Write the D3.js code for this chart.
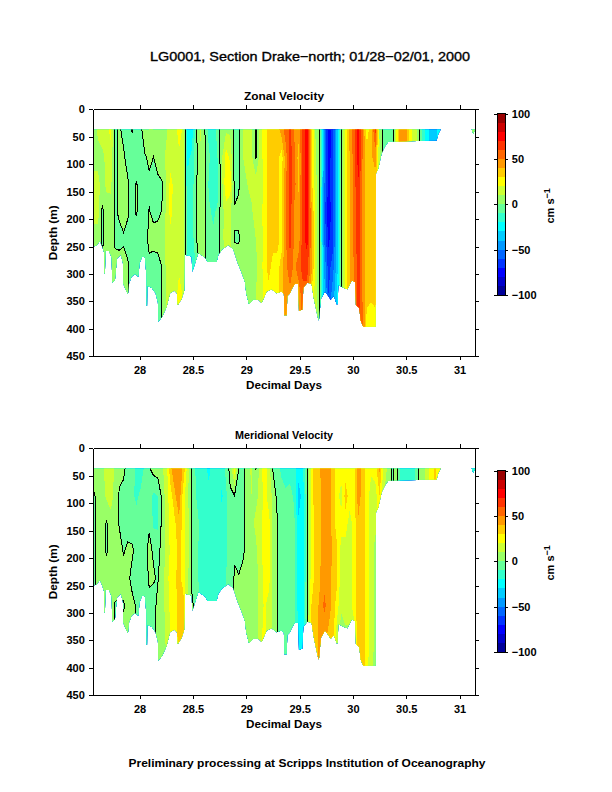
<!DOCTYPE html>
<html><head><meta charset="utf-8">
<script src="https://cdn.jsdelivr.net/npm/d3@7/dist/d3.min.js"></script>
<style>html,body{margin:0;padding:0;background:#fff}svg{display:block}
text{font-family:"Liberation Sans",Arial,sans-serif;fill:#000}</style></head>
<body><svg id="c" width="612" height="792"></svg>
<script>
// ---- data ----
const titleText = "LG0001, Section Drake\u2212north; 01/28\u221202/01, 2000";
const footerText = "Preliminary processing at Scripps Institution of Oceanography";
const xTicks = [28, 28.5, 29, 29.5, 30, 30.5, 31];
const yTicks = [0,50,100,150,200,250,300,350,400,450];
const barTicks = [-100,-50,0,50,100];
const bandColors = ["#000099","#0000cc","#0000ff","#0033ff","#0066ff","#0099ff","#00ccff","#00ffff","#33ffcc","#66ff99",
                    "#99ff66","#ccff33","#ffff00","#ffcc00","#ff9900","#ff6600","#ff3300","#ff0000","#cc0000","#990000"];
const bandLevels = [-100,-90,-80,-70,-60,-50,-40,-30,-20,-10,0,10,20,30,40,50,60,70,80,90];
const firstDay = 27.57, dayStep = 0.04;      // one column every 0.04 day
const firstDepth = 37, depthStep = 50;       // each column lists values from 37 m down every 50 m

const zonal = [
[4,6,14,13,6],[12,7,13,14,5],[14,8,6,-2,-2,3],[16,12,12,5,3,5],[24,15,12,6,5,5],
[-1,-1,-1,-1,-1,2,2],[1,1,1,1,-2,3,3],[-2,1,3,3,-1,3,3],[-3,-3,1,1,-3,1,1],[0.5,-4,-3,-3,-5,-4,-4],
[-3,-3,0.5,1,-6,-6,-6],[-3,-6,-3,-6,-6,-6,-5],[8,-1,-5,-5,-3,-3,-1],[10,2,-2,0.5,2,-2,-2],[10,0,-2,-2,3,-4,-4],
[9,5,-3,-2,4,-4,-3],[3,6,-1,0.5,6,0,0,0],[8,12,10,12,12,12,12,12],[15,15,24,24,15,15,15,15],[15,14,16,14,14,14,14],
[25,18,15,14,14,18,25],[18,15,13,12,12,12,18],[-28,-22,-18,-15,-14,-10],[-26,-18,-15,-12,-16,-22],[-2,-3,-2,-1,-1,-8],
[12,8,10,8,8,2],[0.5,3,3,1,1,1],[-15,-8,-12,-8,-6,-5],[-18,-16,-13,-12,-8,-6],[-5,-10,-15,-8,-6,-3],
[5,8,6,6,8,6],[8,25,28,15,13,10],[8,18,25,12,13,10],[-4,-5,-3,1,-0.5,4],[-3,-3,-1,2,-1,5],
[12,10,8,8,8,8,12],[15,12,10,8,8,8,8],[12,12,12,9,8,7,7],[-2,-1,15,14,10,8,10],[15,14,15,15,12,14,15],
[25,25,22,25,25,25,22],[35,35,35,35,35,35,25],[35,35,35,35,35,25,25],[35,35,35,35,35,25,25],[45,25,25,25,25,35,35],
[55,45,48,48,48,48,48],[62,65,65,65,65,55,48],[48,55,55,48,48,48,48],[45,35,38,45,45,55,45],[65,65,65,65,65,65,55],
[75,75,75,75,75,65,55],[35,35,35,45,45,45,30],[8,12,14,16,16,18,15],[-2,-2,-2,-1,-2,-2,-2,-2],[-45,-45,-48,-55,-50,-40,-35,-25],
[-75,-75,-72,-78,-72,-65,-60],[-65,-65,-65,-65,-65,-55,-45],[-35,-35,-35,-35,-35,-35,-32],[-2,-2,-2,-2,-2,-3,-3],[25,25,25,22,22,25,25],
[45,40,40,40,40,38,38],[55,55,55,55,55,50,50],[75,75,70,65,65,65,65,65],[50,50,48,48,48,48,48,55],[25,35,35,35,35,35,35,25],
[35,38,38,38,38,35,32,25],[65,45,35,35,35,35,35,25],[8,10],[-3,-4],[-8,-8],
[-6,-5],[25,25],[48,48],[48,48],[25,25],[15,15],[8,8],[-12,-12],[-25,-25],[-35,-35],
[-35,-35],[-25,-25],[-12,-12],[-8,-8],[-5,-5],[-2,-2],[2,2],[5,5],[5,5],[8,8],[15,15]
];

const meridional = [
[5,-1,-1,-1,-1],[6,2,2,1,1],[7,5,5,4,4,4],[15,12,-1,-1,4,4],[15,15,5,5,5,5],
[8,6,5,5,5,-1,-1],[2,-1,-1,5,4,-1,3],[2,-3,-3,-1,4,-1,4],[-4,-6,-6,3,3,4,4],[-6,-8,-6,2,-4,4,4],
[-12,-12,-6,-4,-5,-1,-4],[-15,-8,-5,-6,-6,-6,-6],[-8,-6,-5,-2,-4,-5,-4],[-1,-6,-1,2,1,-2,-2],[4,-12,-12,-1,1,-4,-4],
[5,-10,-12,-3,-1,3,3],[8,2,3,3,6,5,5,5],[15,15,12,12,15,14,12,10],[38,25,25,22,25,22,22,12],[47,38,28,25,28,25,25,14],
[48,47,38,34,34,35,36,22],[38,25,25,25,25,35,35],[15,12,15,15,12,8,8],[-2,-2,-1,-1,-1,1,1],[-12,-10,-6,-8,-8,-2],
[-15,-12,-12,-12,-12,-10],[-18,-15,-12,-15,-12,-12],[-22,-18,-15,-12,-18,-12],[-15,-15,-15,-15,-12,-12],[-15,-15,-15,-12,-12,-12],
[-15,-22,-15,-15,-15,-12],[-8,-12,-12,-12,-10,-8],[4,-2,-5,-5,-6,-6],[25,-0.5,-5,-1,1,2],[0,-1,-3,-3,0.5,4],
[-3,-3,-3,-2,4,5],[6,6,5,5,5,5,0.5,-0.5],[12,10,8,6,6,5,5],[-0.5,8,12,8,8,8,5],[15,12,15,15,12,12,15],
[25,25,25,25,25,22,25],[15,15,25,25,25,15,15],[-1,8,8,8,8,8,8],[-6,-3,1,1,1,1,1],[-12,-6,-6,-6,-5,-5,-5],
[-15,-8,-8,-8,-8,-6,-6,-6],[-15,-6,-6,-6,-5,-5,-5],[-15,-12,-8,-8,-8,-6,-5],[-25,-35,-28,-25,-25,-25,-22],[-22,-26,-28,-28,-26,-24,-28],
[-1,-1,-1,-1,-1,-1],[25,25,25,25,25,30,35],[36,36,33,33,33,36,36],[39,38,38,38,39,42,45],[47,48,48,48,48,52,45,25],
[47,47,48,48,48,47,38],[36,36,36,38,36,36,36],[25,25,25,32,32,25,15],[25,15,25,15,15,12,5],[25,35,25,15,15,15,8],
[25,25,15,15,15,15,8],[25,25,25,25,25,25,15],[48,46,38,38,35,38,35,35],[35,35,35,35,35,35,35,38],[25,25,25,25,25,25,25,25],
[22,15,15,15,15,15,15,12],[25,15,10,8,8,8,8,8],[42,30],[15,10],[8,5],
[-1,-1],[3,3],[-12,-12],[-15,-15],[-15,-15],[-12,-12],[-1,-1],[6,6],[12,12],[25,25],
[32,32],[25,25],[15,15],[8,8],[4,4],[2,2],[-2,-2],[-5,-5],[-8,-8],[-12,-12],[-15,-15]
];

const bottomDays = [27.566,27.597,27.628,27.65,27.666,27.669,27.675,27.68,27.713,27.738,27.744,27.769,27.788,27.825,27.844,27.847,27.878,27.891,27.9,27.925,27.957,27.988,28.0,28.025,28.05,28.063,28.066,28.07,28.072,28.113,28.15,28.172,28.175,28.212,28.253,28.285,28.325,28.35,28.357,28.394,28.419,28.425,28.488,28.494,28.513,28.55,28.613,28.638,28.722,28.738,28.775,28.832,28.878,28.92,28.957,28.988,29.0,29.025,29.066,29.113,29.144,29.191,29.238,29.285,29.332,29.353,29.357,29.378,29.385,29.41,29.425,29.456,29.488,29.494,29.525,29.535,29.572,29.612,29.634,29.669,29.681,29.7,29.738,29.769,29.791,29.822,29.847,29.856,29.863,29.91,29.947,29.988,30.022,30.028,30.06,30.072,30.097,30.213,30.216,30.238,30.269,30.3,30.331,30.784,30.8,30.822,31.113,31.128,31.147];
const bottomDepth = [250,248,240,250,260,299,299,258,258,270,316,311,272,265,280,318,332,337,318,305,300,305,280,268,270,300,358,358,322,325,335,352,387,378,360,335,330,335,357,345,330,265,268,296,285,262,270,278,278,265,255,247,255,280,298,315,335,355,347,347,353,332,328,335,332,337,375,375,340,335,328,318,318,367,365,325,316,318,345,378,385,345,332,340,347,340,355,355,320,325,328,312,315,357,362,385,396,396,117,108,80,68,59,57,45,37,37,45,37];

// ---- drawing ----
const svg = d3.select("#c");
const x = d3.scaleLinear().domain([27.566,31.147]).range([93.3,475.3]);
const color = d3.scaleThreshold().domain(bandLevels.slice(1)).range(bandColors);
const nRows = 8;

function label(g, s, px, py, size, anchor, weight, len){
  const t = g.append("text").attr("x",px).attr("y",py).attr("font-size",size)
    .attr("text-anchor",anchor).attr("font-weight",weight).text(s);
  if(len) t.attr("textLength",len).attr("lengthAdjust","spacingAndGlyphs");
  return t;
}

function panel(name, cols, top, idx, barTop){
  const g = svg.append("g");
  const H = 247;
  const y = d3.scaleLinear().domain([0,450]).range([top, top+H]);
  // filled grid: every column carried down to full depth, padded by one cell round the edge
  const full = cols.map(c => d3.range(nRows).map(j => j < c.length ? c[j] : c[c.length-1]));
  const padded = [full[0], ...full, full[full.length-1]].map(c => [c[0], ...c, c[nRows-1]]);
  const w = padded.length, h = nRows+2, grid = new Array(w*h);
  padded.forEach((c,i) => c.forEach((v,j) => grid[i+j*w] = v));
  const proj = d3.geoTransform({point(px,py){
    this.stream.point(x(firstDay+(px-1.5)*dayStep), y(firstDepth+(py-1.5)*depthStep));
  }});
  const path = d3.geoPath(proj);
  const cont = d3.contours().size([w,h]);
  const clipId = "clip"+idx;
  const area = d3.area().x(d=>x(d[0])).y0(y(37)).y1(d=>y(d[1]));
  g.append("clipPath").attr("id",clipId).append("path")
    .attr("d",area(d3.zip(bottomDays,bottomDepth)));
  const field = g.append("g").attr("clip-path",`url(#${clipId})`);
  bandLevels.forEach((lv,k)=>{
    field.append("path").datum(cont.contour(grid,lv))
      .attr("d",path).attr("fill",bandColors[k]).attr("stroke","none").attr("shape-rendering","crispEdges");
  });
  field.append("path").datum(cont.contour(grid,0)).attr("d",path)
    .attr("fill","none").attr("stroke","#000").attr("stroke-width",1).attr("shape-rendering","crispEdges");

  // frame and axes
  const axes = g.append("g");
  const fmt = d => String(d);
  const styleAxis = (s)=>{ s.selectAll("path.domain").attr("stroke","#000").attr("stroke-width",1).attr("shape-rendering","crispEdges");
    s.selectAll("line").attr("stroke","#000").attr("stroke-width",1).attr("shape-rendering","crispEdges"); };
  const ax1 = axes.append("g").attr("transform",`translate(0,${top+H})`)
    .call(d3.axisBottom(x).tickValues(xTicks).tickSize(4).tickSizeOuter(0).tickFormat(fmt));
  const ax2 = axes.append("g").attr("transform",`translate(0,${top})`)
    .call(d3.axisTop(x).tickValues(xTicks).tickSize(4).tickSizeOuter(0).tickFormat(""));
  const ay1 = axes.append("g").attr("transform",`translate(${x.range()[0]},0)`)
    .call(d3.axisLeft(y).tickValues(yTicks).tickSize(4).tickSizeOuter(0).tickFormat(fmt));
  const ay2 = axes.append("g").attr("transform",`translate(${x.range()[1]},0)`)
    .call(d3.axisRight(y).tickValues(yTicks).tickSize(4).tickSizeOuter(0).tickFormat(""));
  [ax1,ax2,ay1,ay2].forEach(styleAxis);
  axes.selectAll("text").attr("font-size",11).attr("font-weight","bold").attr("font-family","Liberation Sans");
  ax1.selectAll("text").attr("dy",0).attr("y",18);
  ay1.selectAll("text").attr("x",-8.5);

  label(g, name, 284, top-9.5, 11, "middle", "bold", name.length>14?98:80);
  label(g, "Decimal Days", 284, top+H+32.5, 11, "middle", "bold", 76);
  label(g, "Depth (m)", 0, 0, 11, "middle", "bold", 55)
    .attr("transform",`translate(57,${top+123.5}) rotate(-90)`);

  // colour bar
  const by = d3.scaleLinear().domain([-100,100]).range([barTop+181.5,barTop]);
  const bx0 = 497.3, bx1 = 505.3;
  const bar = g.append("g");
  bar.selectAll("rect").data(bandLevels).join("rect")
    .attr("x",bx0).attr("width",bx1-bx0)
    .attr("y",d=>by(d+10)).attr("height",d=>by(d)-by(d+10))
    .attr("fill",d=>color(d)).attr("shape-rendering","crispEdges");
  const b1 = bar.append("g").attr("transform",`translate(${bx0},0)`)
    .call(d3.axisLeft(by).tickValues(barTicks).tickSize(3).tickSizeOuter(0).tickFormat(""));
  const b2 = bar.append("g").attr("transform",`translate(${bx1},0)`)
    .call(d3.axisRight(by).tickValues(barTicks).tickSize(3).tickSizeOuter(0)
      .tickFormat(d=> d<0 ? "\u2212"+(-d) : String(d)));
  [b1,b2].forEach(styleAxis);
  bar.append("rect").attr("x",bx0).attr("y",barTop).attr("width",bx1-bx0).attr("height",181.5)
    .attr("fill","none").attr("stroke","#000").attr("stroke-width",1).attr("shape-rendering","crispEdges");
  b2.selectAll("text").attr("x",6.5).attr("font-size",11).attr("font-weight","bold").attr("font-family","Liberation Sans");
  const u = label(g,"",0,0,11,"start","bold").attr("transform",`translate(554,${barTop+110}) rotate(-90)`);
  u.append("tspan").text("cm s");
  u.append("tspan").attr("dy",-4).attr("font-size",9).text("\u22121");
}

label(svg, titleText, 310, 61, 13, "middle", "normal", 320).attr("stroke","#000").attr("stroke-width",0.35);
panel("Zonal Velocity", zonal, 109.3, 0, 113.5);
panel("Meridional Velocity", meridional, 448.3, 1, 470.5);
label(svg, footerText, 307, 767, 11.5, "middle", "bold", 357);
</script></body></html>
